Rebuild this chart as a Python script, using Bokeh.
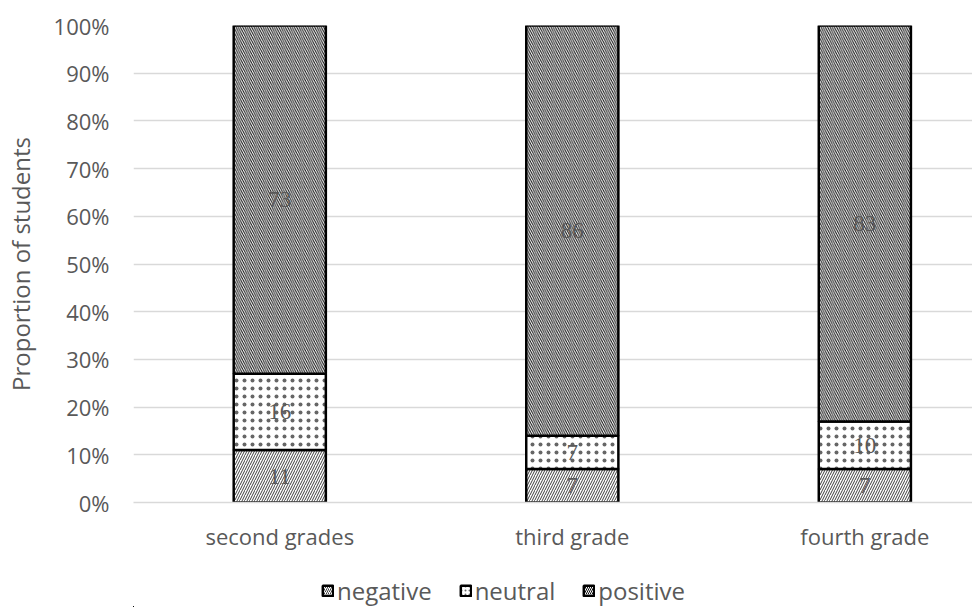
from bokeh.plotting import figure
from bokeh.layouts import column
from bokeh.models import (ColumnDataSource, FixedTicker, NumeralTickFormatter, Legend,
                          LegendItem, Range1d, LabelSet)
from bokeh.embed import file_html
from bokeh.resources import INLINE

grades = ["second grades", "third grade", "fourth grade"]
negative = [11, 7, 7]
neutral = [16, 7, 10]
positive = [73, 86, 83]
series_names = ["negative", "neutral", "positive"]
y_ticks = [0, 10, 20, 30, 40, 50, 60, 70, 80, 90, 100]

FONT = "Open Sans"
GRAY = "#595959"

xs = list(range(len(grades)))
series = [negative, neutral, positive]
patterns = ["/", ".", "\\"]
scales = [5, 8, 4.5]
alphas = [0.75, 0.6, 0.95]

p = figure(width=972, height=567, output_backend="svg", toolbar_location=None,
           x_range=Range1d(-0.5, 2.368), y_range=Range1d(0, 1.0),
           min_border_left=133, min_border_right=0, min_border_top=25,
           min_border_bottom=65)
p.outline_line_color = None
p.xgrid.grid_line_color = None
p.ygrid.grid_line_color = "#d9d9d9"
p.ygrid.grid_line_width = 1.3
p.ygrid.ticker = FixedTicker(ticks=[t / 100 for t in y_ticks])

# legend strip: a small figure that shows only the key (its view ranges exclude the data)
lg = figure(width=972, height=40, output_backend="svg", toolbar_location=None,
            x_axis_type=None, y_axis_type=None, x_range=Range1d(100, 101),
            y_range=Range1d(100, 101),
            min_border_left=0, min_border_right=0, min_border_top=0, min_border_bottom=0)
lg.outline_line_color = None
lg.grid.grid_line_color = None

bottoms = [0] * len(grades)
keys = []
for name, vals, pat, sc, al in zip(series_names, series, patterns, scales, alphas):
    tops = [b + v for b, v in zip(bottoms, vals)]
    src = ColumnDataSource(dict(
        x=xs,
        bottom=[b / 100 for b in bottoms],
        top=[t / 100 for t in tops],
        mid=[(b + t) / 200 for b, t in zip(bottoms, tops)],
        txt=[str(v) for v in vals],
    ))
    style = dict(fill_color="white", line_color="black", line_width=2.5,
                 hatch_pattern=pat, hatch_color="black", hatch_scale=sc,
                 hatch_weight=1, hatch_alpha=al)
    p.vbar(x="x", bottom="bottom", top="top", width=0.315, source=src, **style)
    keys.append(lg.vbar(x="x", bottom="bottom", top="top", width=0.315, source=src,
                        **dict(style, hatch_scale=4)))
    labels = LabelSet(x="x", y="mid", text="txt", source=src, text_align="center",
                      text_baseline="middle", text_font=FONT, text_font_size="23px",
                      text_color=GRAY)
    p.add_layout(labels)
    bottoms = tops

p.xaxis.ticker = FixedTicker(ticks=xs)
p.xaxis.major_label_overrides = {i: g for i, g in enumerate(grades)}
p.yaxis.ticker = FixedTicker(ticks=[t / 100 for t in y_ticks])
p.yaxis.formatter = NumeralTickFormatter(format="0%")
p.yaxis.axis_label = "Proportion of students"

for ax in (p.xaxis[0], p.yaxis[0]):
    ax.major_tick_line_color = None
    ax.minor_tick_line_color = None
    ax.major_label_text_font = FONT
    ax.major_label_text_font_size = "22px"
    ax.major_label_text_color = GRAY
    ax.axis_label_text_font = FONT
    ax.axis_label_text_font_size = "24px"
    ax.axis_label_text_font_style = "normal"
    ax.axis_label_text_color = GRAY
p.yaxis.axis_line_color = None
p.xaxis.axis_line_color = "#d9d9d9"
p.xaxis.axis_line_width = 1.3
p.xaxis.major_label_standoff = 12
p.yaxis.major_label_standoff = 18
p.yaxis.axis_label_standoff = 14

legend = Legend(items=[LegendItem(label=n, renderers=[r]) for n, r in zip(series_names, keys)],
                orientation="horizontal", location=(188, 0),
                glyph_width=13, glyph_height=13, label_standoff=3, spacing=27,
                label_text_font=FONT, label_text_font_size="24px", label_text_color=GRAY,
                border_line_color=None, background_fill_alpha=0, padding=0, margin=0)
lg.add_layout(legend, "center")

open("out.html", "w").write(file_html(column(p, lg, spacing=0), INLINE))
